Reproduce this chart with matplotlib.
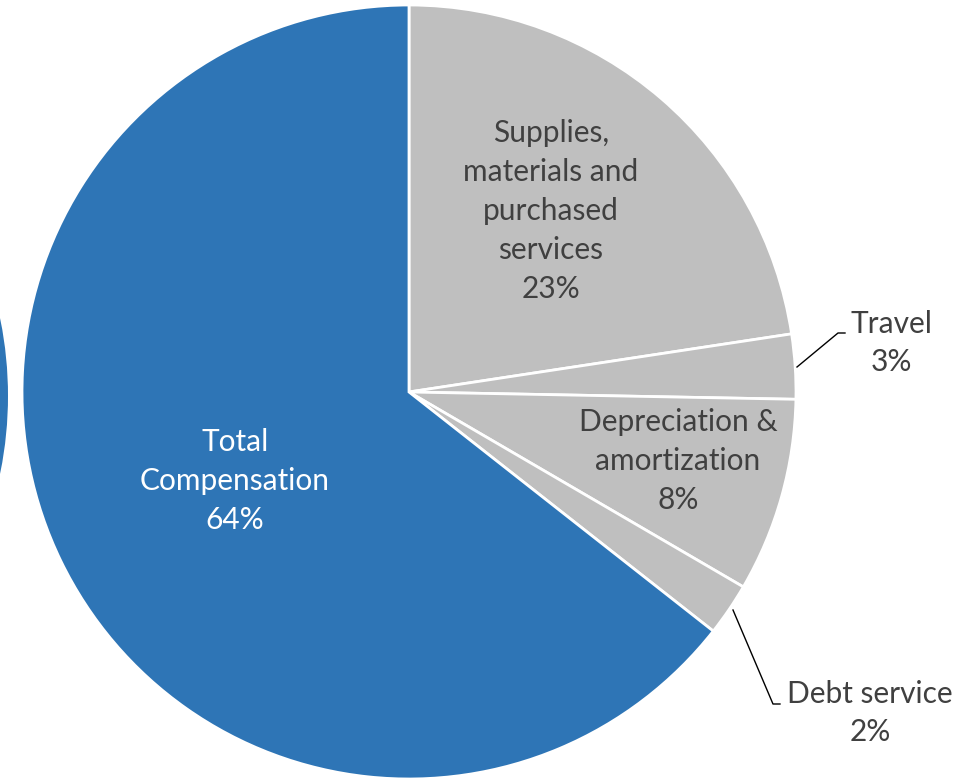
import matplotlib.pyplot as plt
from matplotlib.patches import Circle

# slices, clockwise from 12 o'clock
labels = ['Supplies,\nmaterials and\npurchased\nservices', 'Travel', 'Depreciation &\namortization',
          'Debt service', 'Total\nCompensation']
values = [22.6, 2.7, 8.1, 2.2, 64.4]
pct_text = ['23%', '3%', '8%', '2%', '64%']
colors = ['#BFBFBF', '#BFBFBF', '#BFBFBF', '#BFBFBF', '#2E75B6']

W, H = 967, 780
fig = plt.figure(figsize=(W / 100, H / 100), dpi=100)
ax = fig.add_axes([0, 0, 1, 1])
ax.set_xlim(0, W)
ax.set_ylim(0, H)
ax.set_aspect('equal')
ax.axis('off')

cx, cy, r = 409, H - 392, 387

# neighbouring chart peeking in at the left edge
ax.add_patch(Circle((8 - r, H - 396), r, color='#2E75B6', lw=0))

wedges, _ = ax.pie(values, colors=colors, startangle=90, counterclock=False,
                   center=(cx, cy), radius=r, frame=True,
                   wedgeprops=dict(edgecolor='white', linewidth=2))
ax.set_xlim(0, W)
ax.set_ylim(0, H)
ax.axis('off')

font = 'Lato'
fs = 21.5
txt_pos = [(551, 211), (891, 343), (678, 461), (870, 713), (235, 481)]
for i, (x, y) in enumerate(txt_pos):
    col = 'white' if i == 4 else '#404040'
    ax.text(x, H - y, labels[i] + '\n' + pct_text[i], ha='center', va='center',
            fontsize=fs, family=font, color=col, linespacing=1.47)

# leader lines
ax.plot([797, 838, 845], [H - 367, H - 333, H - 333], color='black', lw=1)
ax.plot([733, 773, 780], [H - 610, H - 704, H - 704], color='black', lw=1)

fig.savefig('out.png', dpi=100)
